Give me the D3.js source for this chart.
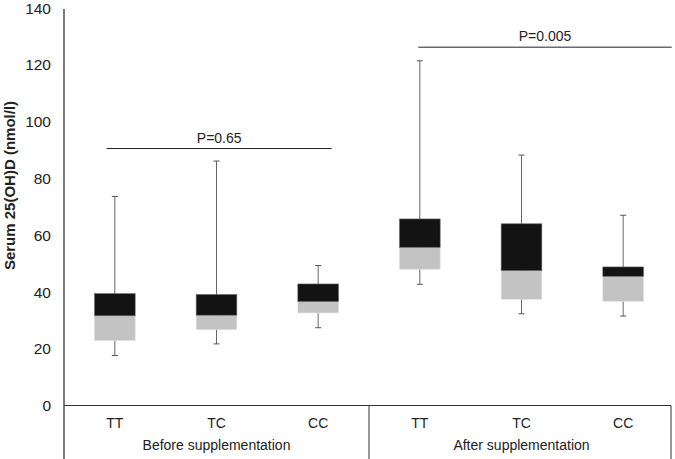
<!DOCTYPE html>
<html><head><meta charset="utf-8">
<script src="https://cdn.jsdelivr.net/npm/d3@7"></script>
<style>body{margin:0;background:#fff}svg{display:block}text{font-family:"Liberation Sans",Arial,sans-serif;fill:#222}</style>
</head><body><svg id="c" width="675" height="459"></svg>
<script>
const groups = ["Before supplementation","After supplementation"];
const genotypes = ["TT","TC","CC"];
const categories = ["B-TT","B-TC","B-CC","A-TT","A-TC","A-CC"];
const whiskerMin = [17.6, 21.7, 27.4, 42.7, 32.3, 31.5];
const q1 = [22.9, 26.7, 32.6, 48.0, 37.4, 36.7];
const median = [31.6, 31.8, 36.6, 55.7, 47.5, 45.5];
const q3 = [39.4, 39.1, 42.8, 65.7, 64.0, 48.8];
const whiskerMax = [73.6, 86.1, 49.3, 121.4, 88.2, 67.0];
const yTicks = [0,20,40,60,80,100,120,140];
const pLabels = ["P=0.65","P=0.005"];
const pLevels = [90.5, 126.2];

(function(){
const svg = d3.select("#c");
const mLeft = 64, mRight = 674, mBottom = 405.5, mTop = 8;
const x = d3.scaleBand().domain(categories).range([mLeft, mRight]);
const y = d3.scaleLinear().domain([0,140]).range([mBottom, mTop]);
const bw = x.bandwidth()*0.4;
const cx = d => x(d)+x.bandwidth()/2;

// y axis
svg.append("line").attr("x1",mLeft).attr("x2",mLeft).attr("y1",9).attr("y2",459).attr("stroke","#222").attr("stroke-width",1.2);
svg.selectAll(".yt").data(yTicks).enter().append("text")
  .attr("x",51).attr("y",d=>y(d)).attr("dy","0.36em").attr("text-anchor","end")
  .attr("font-size",15.5).text(d=>d);
// x axis & table lines
svg.append("line").attr("x1",mLeft).attr("x2",671).attr("y1",y(0)).attr("y2",y(0)).attr("stroke","#333").attr("stroke-width",1);
svg.append("line").attr("x1",x("A-TT")).attr("x2",x("A-TT")).attr("y1",y(0)).attr("y2",459).attr("stroke","#333");
svg.append("line").attr("x1",671).attr("x2",671).attr("y1",y(0)).attr("y2",459).attr("stroke","#333");

// category labels
svg.selectAll(".cl").data(categories).enter().append("text")
  .attr("x",cx).attr("y",428).attr("text-anchor","middle").attr("font-size",14)
  .text((d,i)=>genotypes[i%3]);
svg.selectAll(".gl").data(groups).enter().append("text")
  .attr("x",(d,i)=>cx(categories[i*3+1])).attr("y",450).attr("text-anchor","middle").attr("font-size",14)
  .text(d=>d);

// y title
svg.append("text").attr("transform",`translate(15,185.5) rotate(-90)`)
  .attr("text-anchor","middle").attr("font-size",15).attr("font-weight","bold").text("Serum 25(OH)D (nmol/l)");

// boxes
const g = svg.selectAll(".b").data(categories).enter().append("g");
g.append("line").attr("x1",cx).attr("x2",cx)
  .attr("y1",(d,i)=>y(whiskerMin[i])).attr("y2",(d,i)=>y(whiskerMax[i])).attr("stroke","#666").attr("stroke-width",1);
[whiskerMin, whiskerMax].forEach(arr=>{
  g.append("line").attr("x1",d=>cx(d)-3).attr("x2",d=>cx(d)+3)
   .attr("y1",(d,i)=>y(arr[i])).attr("y2",(d,i)=>y(arr[i])).attr("stroke","#555").attr("stroke-width",1);
});
g.append("rect").attr("x",d=>cx(d)-bw/2).attr("width",bw)
  .attr("y",(d,i)=>y(median[i])).attr("height",(d,i)=>y(q1[i])-y(median[i])).attr("fill","#c3c3c3").attr("stroke","#e0e0e0").attr("stroke-width",0.6);
g.append("rect").attr("x",d=>cx(d)-bw/2).attr("width",bw)
  .attr("y",(d,i)=>y(q3[i])).attr("height",(d,i)=>y(median[i])-y(q3[i])).attr("fill","#131313").attr("stroke","#666").attr("stroke-width",0.6);

// p-value brackets
const pSpans = [[106.7, 331.7],[418.3, 671.7]];
pLabels.forEach((p,i)=>{
  svg.append("line").attr("x1",pSpans[i][0]).attr("x2",pSpans[i][1]).attr("y1",y(pLevels[i])).attr("y2",y(pLevels[i])).attr("stroke","#222").attr("stroke-width",1);
  svg.append("text").attr("x",(pSpans[i][0]+pSpans[i][1])/2).attr("y",y(pLevels[i])-6).attr("text-anchor","middle").attr("font-size",14).text(p);
});
})();
</script></body></html>
